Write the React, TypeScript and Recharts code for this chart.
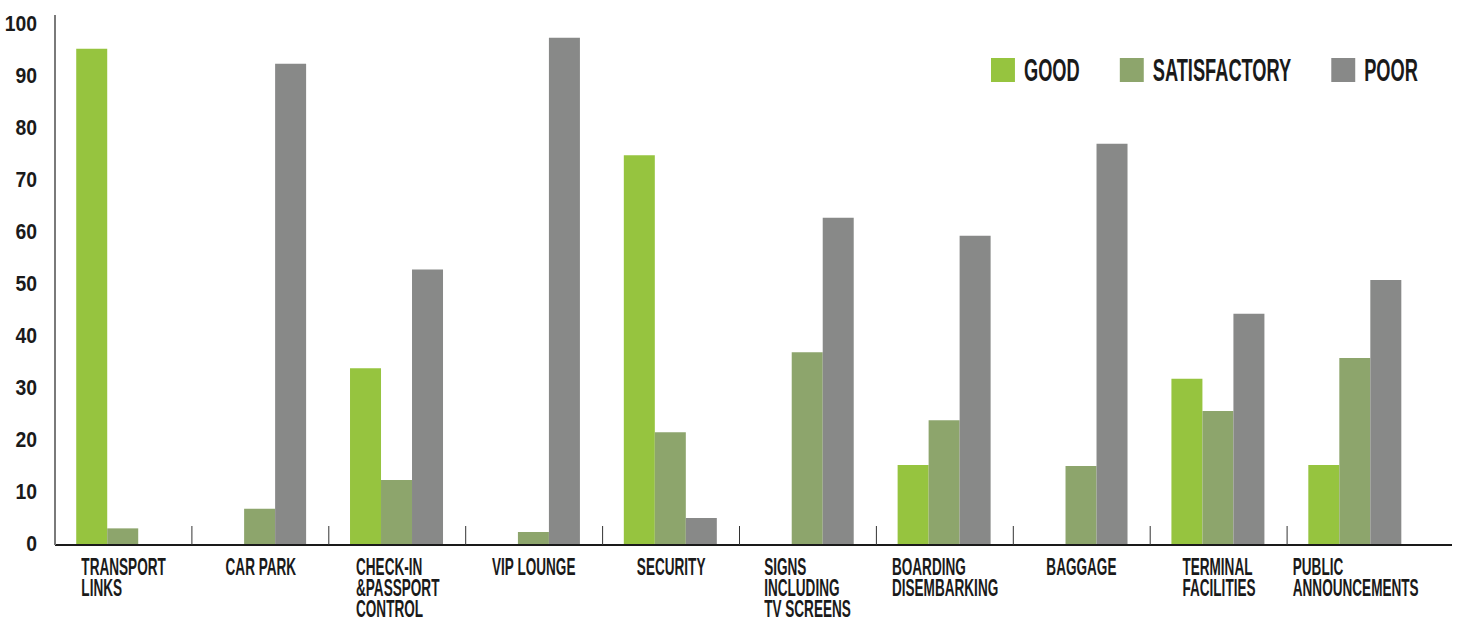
import React from 'react';
import { BarChart, Bar, XAxis, YAxis, Legend } from 'recharts';

const categories = [
  'TRANSPORT\nLINKS',
  'CAR PARK',
  'CHECK-IN\n&PASSPORT\nCONTROL',
  'VIP LOUNGE',
  'SECURITY',
  'SIGNS\nINCLUDING\nTV SCREENS',
  'BOARDING\nDISEMBARKING',
  'BAGGAGE',
  'TERMINAL\nFACILITIES',
  'PUBLIC\nANNOUNCEMENTS',
];
const good = [95.5, 0, 34, 0, 75, 0, 15.4, 0, 32, 15.4];
const satisfactory = [3.2, 7, 12.5, 2.5, 21.7, 37.1, 24, 15.2, 25.8, 36];
const poor = [0, 92.6, 53, 97.6, 5.2, 63, 59.5, 77.2, 44.5, 51];
const yTicks = [0, 10, 20, 30, 40, 50, 60, 70, 80, 90, 100];
const seriesNames = ['GOOD', 'SATISFACTORY', 'POOR'];

const data = categories.map((name, i) => ({
  name,
  good: good[i],
  satisfactory: satisfactory[i],
  poor: poor[i],
}));

const FONT = "'Liberation Sans', Arial, sans-serif";
const LABEL_SQUEEZE = 0.59;
const LEGEND_SQUEEZE = 0.57;
const Y_SQUEEZE = 0.88;
const INK = '#1a1a1a';

const CategoryTick = (props: any) => {
  const { x, y, payload } = props;
  const half = payload.offset ?? 68.45;
  return (
    <g>
      {payload.index > 0 && (
        <line x1={x - half} x2={x - half} y1={y - 19} y2={y} stroke="#333" strokeWidth={1} />
      )}
      <foreignObject x={x - 130} y={y + 12} width={260} height={63}>
        <div style={{ display: 'flex', justifyContent: 'center' }}>
          <div
            style={{
              whiteSpace: 'pre-line',
              textAlign: 'left',
              fontFamily: FONT,
              fontWeight: 700,
              fontSize: 23,
              lineHeight: '21px',
              color: INK,
              transform: `scaleX(${LABEL_SQUEEZE})`,
              transformOrigin: 'center',
            }}
          >
            {payload.value}
          </div>
        </div>
      </foreignObject>
    </g>
  );
};

const ValueTick = (props: any) => {
  const { x, y, payload } = props;
  return (
    <text
      x={0}
      y={0}
      transform={`translate(${x},${y + 5.5}) scale(${Y_SQUEEZE},1)`}
      textAnchor="end"
      fontFamily={FONT}
      fontWeight={700}
      fontSize={22}
      fill={INK}
    >
      {payload.value}
    </text>
  );
};

const renderLegend = (props: any) => {
  const items = [...(props.payload || [])].sort(
    (a: any, b: any) => seriesNames.indexOf(a.value) - seriesNames.indexOf(b.value)
  );
  return (
    <div
      style={{
        display: 'flex',
        alignItems: 'center',
        whiteSpace: 'nowrap',
        transform: `scaleX(${LEGEND_SQUEEZE})`,
        transformOrigin: 'left',
      }}
    >
      {items.map((e: any, i: number) => (
        <div key={i} style={{ display: 'flex', alignItems: 'center', marginRight: 40 / LEGEND_SQUEEZE }}>
          <div style={{ width: 24 / LEGEND_SQUEEZE, height: 24, background: e.color }} />
          <span
            style={{
              marginLeft: 9 / LEGEND_SQUEEZE,
              fontFamily: FONT,
              fontWeight: 700,
              fontSize: 32,
              lineHeight: '24px',
              color: INK,
            }}
          >
            {e.value}
          </span>
        </div>
      ))}
    </div>
  );
};

export default function App() {
  return (
    <div style={{ position: 'absolute', left: 0, top: 0, width: 1461, height: 621, background: '#fff' }}>
      <BarChart
        width={1461}
        height={621}
        data={data}
        margin={{ top: 15, right: 9, left: 0, bottom: 0 }}
        barCategoryGap="15.5%"
        barGap={0}
      >
        <XAxis
          dataKey="name"
          interval={0}
          tickLine={false}
          tickSize={0}
          tickMargin={0}
          height={76}
          padding={{ left: 0, right: 28 }}
          axisLine={{ stroke: INK, strokeWidth: 2 }}
          tick={<CategoryTick />}
        />
        <YAxis
          domain={[0, 102]}
          ticks={yTicks}
          width={55}
          tickLine={false}
          tickSize={0}
          tickMargin={18}
          axisLine={{ stroke: '#7a7a7a', strokeWidth: 2 }}
          tick={<ValueTick />}
        />
        <Legend
          layout="vertical"
          align="center"
          verticalAlign="middle"
          content={renderLegend}
          wrapperStyle={{ top: 58, left: 991, width: 'auto', height: 'auto' }}
        />
        <Bar dataKey="good" name={seriesNames[0]} fill="#96c43f" isAnimationActive={false} />
        <Bar dataKey="satisfactory" name={seriesNames[1]} fill="#8da56c" isAnimationActive={false} />
        <Bar dataKey="poor" name={seriesNames[2]} fill="#888988" isAnimationActive={false} />
      </BarChart>
    </div>
  );
}
